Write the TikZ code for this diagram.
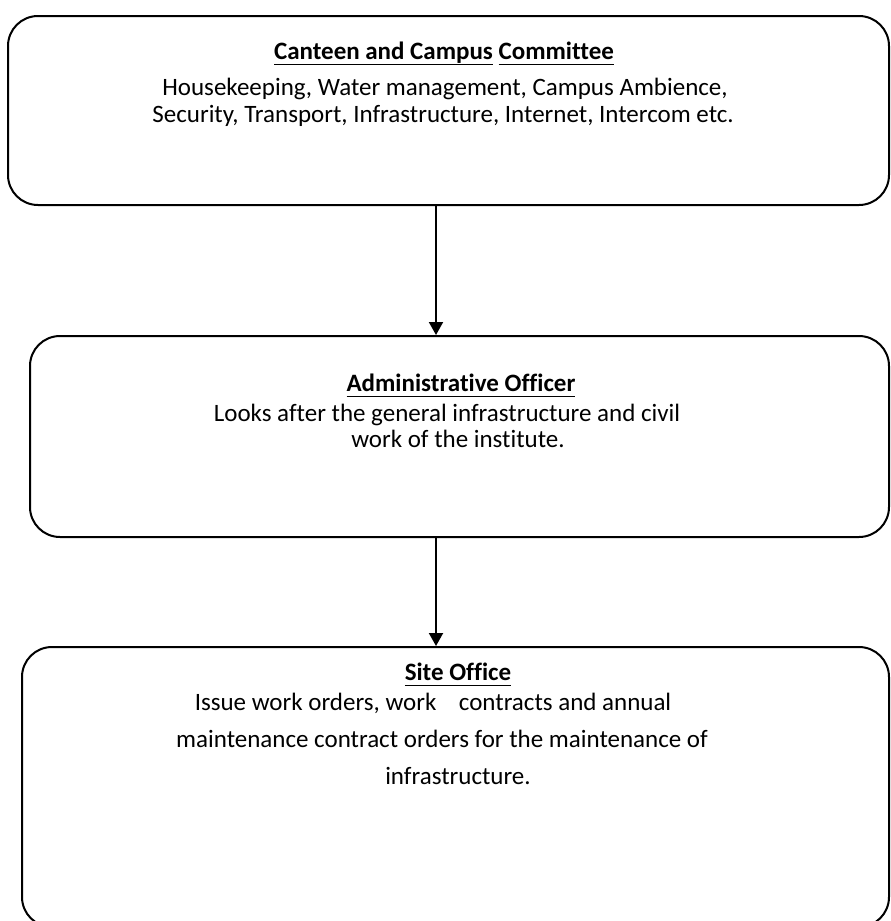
\documentclass[tikz,border=0pt]{standalone}
\usepackage{fontspec}
\setmainfont[Ligatures=NoCommon]{Carlito}
\usetikzlibrary{arrows.meta}
\tikzset{
  panel/.style={draw, line width=2pt, rounded corners=30pt, inner sep=0pt},
  txt/.style={anchor=base, inner sep=0pt, font=\fontsize{25}{30}\selectfont},
  head/.style={txt, font=\fontsize{25}{30}\selectfont\bfseries},
  link/.style={line width=2pt, -{Triangle[length=13pt,width=14pt]}},
}
\newcommand\ulword[1]{\underline{#1\vphantom{p}}}

\begin{document}
\begin{tikzpicture}[x=1pt,y=-1pt]
\useasboundingbox (0,0) rectangle (891,921);

% boxes
\node[panel, minimum width=881pt, minimum height=189pt] (canteen) at (448.5,110.5) {};
\node[panel, minimum width=859pt, minimum height=201pt] (admin) at (459.5,436.5) {};
\node[panel, minimum width=867pt, minimum height=280pt] (site) at (455.5,787) {};

% committee text
\node[head] (canteenT) at (444,59) {\ulword{Canteen and Campus} \ulword{Committee}};
\node[txt] (canteenA) at (445,95) {Housekeeping, Water management, Campus Ambience,};
\node[txt] (canteenB) at (443,122) {Security, Transport, Infrastructure, Internet, Intercom etc.};

% officer text
\node[head] (adminT) at (461,391) {\ulword{Administrative Officer}};
\node[txt] (adminA) at (447,421) {Looks after the general infrastructure and civil};
\node[txt] (adminB) at (458,447) {work of the institute.};

% site office text
\node[head] (siteT) at (458,680) {\ulword{Site Office}};
\node[txt] (siteA) at (433,710) {Issue work orders, work\hspace{0.9em}contracts and annual};
\node[txt] (siteB) at (442,747) {maintenance contract orders for the maintenance of};
\node[txt] (siteC) at (458,784) {infrastructure.};

% connectors
\draw[link] ([xshift=-12.5pt]canteen.south) -- ([xshift=-12.5pt]canteen.south |- admin.north);
\draw[link] ([xshift=-23.5pt]admin.south) -- ([xshift=-23.5pt]admin.south |- site.north);
\end{tikzpicture}
\end{document}
